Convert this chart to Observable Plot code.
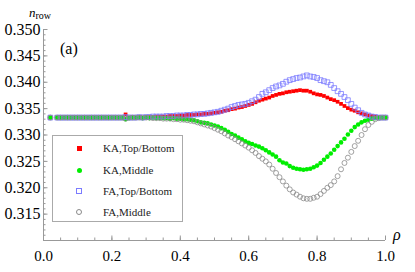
<!DOCTYPE html>
<html>
<head>
<meta charset="utf-8">
<script src="https://cdn.jsdelivr.net/npm/d3@7"></script>
<script src="https://cdn.jsdelivr.net/npm/@observablehq/plot@0.6"></script>
<style>
  html, body { margin: 0; padding: 0; background: #fff; }
  #wrap { position: relative; width: 415px; height: 272px; font-family: "Liberation Serif", "Times New Roman", Times, serif; }
  #wrap svg { position: absolute; left: 0; top: 0; }
  .ov { position: absolute; line-height: 1; color: #000; white-space: nowrap; }
  #legend { position: absolute; left: 52px; top: 135px; width: 129px; height: 85px; border: 1px solid #aaa; background: #fff; }
  .li { position: absolute; left: 0; height: 14px; width: 129px; }
  .sym { position: absolute; box-sizing: border-box; }
  .lt { position: absolute; left: 50px; top: 0; font-size: 11px; line-height: 14px; color: #222; }
</style>
</head>
<body>
<div id="wrap"></div>
<script>
// ---- data ----
const rho = [0.02,0.04,0.05,0.06,0.07,0.08,0.09,0.10,0.11,0.12,0.13,0.14,0.15,0.16,0.17,0.18,0.19,0.20,0.21,0.22,0.23,0.24,0.25,0.26,0.27,0.28,0.29,
  0.30,0.31,0.32,0.33,0.34,0.35,0.36,0.37,0.38,0.39,
  0.40,0.41,0.42,0.43,0.44,0.45,0.46,0.47,0.48,0.49,
  0.50,0.51,0.52,0.53,0.54,0.55,0.56,0.57,0.58,0.59,
  0.60,0.61,0.62,0.63,0.64,0.65,0.66,0.67,0.68,0.69,
  0.70,0.71,0.72,0.73,0.74,0.75,0.76,0.77,0.78,0.79,
  0.80,0.81,0.82,0.83,0.84,0.85,0.86,0.87,0.88,0.89,
  0.90,0.91,0.92,0.93,0.94,0.95,0.96,0.97,0.98,0.99,
  1.00];

const kaTopBottom = [0.3333,0.3333,0.3333,0.3333,0.3333,0.3333,0.3333,0.3333,0.3333,0.3333,0.3333,0.3333,0.3333,0.3333,0.3333,0.3333,0.3333,0.3333,0.3333,0.3333,0.3333,0.3339,0.3332,0.3334,0.3333,0.3334,0.3333,
  0.3334,0.3334,0.3334,0.3335,0.3335,0.3335,0.3335,0.3336,0.3336,0.3336,
  0.3337,0.3337,0.3338,0.3338,0.3338,0.3339,0.3339,0.3340,0.3340,0.3341,
  0.3342,0.3343,0.3344,0.3346,0.3347,0.3349,0.3350,0.3352,0.3353,0.3355,
  0.3357,0.3359,0.3362,0.3365,0.3367,0.3369,0.3371,0.3374,0.3376,0.3378,
  0.3379,0.3381,0.3382,0.3383,0.3384,0.3385,0.3384,0.3384,0.3382,0.3379,
  0.3377,0.3376,0.3374,0.3371,0.3368,0.3366,0.3363,0.3359,0.3355,0.3351,
  0.3348,0.3346,0.3343,0.3341,0.3339,0.3337,0.3336,0.3335,0.3334,0.3333,
  0.3333];

const kaMiddle = [0.3333,0.3333,0.3333,0.3333,0.3333,0.3333,0.3333,0.3333,0.3333,0.3333,0.3333,0.3333,0.3333,0.3333,0.3333,0.3333,0.3333,0.3333,0.3333,0.3333,0.3333,0.3330,0.3332,0.3333,0.3333,0.3333,0.3332,
  0.3333,0.3332,0.3333,0.3332,0.3332,0.3332,0.3332,0.3331,0.3332,0.3331,
  0.3331,0.3330,0.3330,0.3329,0.3328,0.3326,0.3324,0.3323,0.3322,0.3320,
  0.3318,0.3316,0.3313,0.3310,0.3306,0.3302,0.3299,0.3295,0.3292,0.3288,
  0.3285,0.3283,0.3280,0.3278,0.3275,0.3271,0.3267,0.3263,0.3259,0.3252,
  0.3248,0.3246,0.3241,0.3238,0.3236,0.3235,0.3234,0.3235,0.3236,0.3239,
  0.3242,0.3247,0.3253,0.3259,0.3265,0.3272,0.3279,0.3286,0.3293,0.3301,
  0.3308,0.3315,0.3320,0.3324,0.3327,0.3329,0.3331,0.3332,0.3333,0.3333,
  0.3333];

const faTopBottom = [0.3333,0.3333,0.3333,0.3333,0.3333,0.3333,0.3333,0.3333,0.3333,0.3333,0.3333,0.3333,0.3333,0.3333,0.3333,0.3333,0.3333,0.3333,0.3333,0.3333,0.3333,0.3334,0.3333,0.3333,0.3333,0.3334,0.3333,
  0.3334,0.3334,0.3335,0.3335,0.3335,0.3335,0.3336,0.3336,0.3336,0.3337,
  0.3337,0.3337,0.3338,0.3338,0.3339,0.3339,0.3340,0.3340,0.3341,0.3342,
  0.3343,0.3344,0.3346,0.3348,0.3350,0.3353,0.3355,0.3357,0.3358,0.3359,
  0.3361,0.3364,0.3367,0.3372,0.3378,0.3381,0.3385,0.3389,0.3392,0.3394,
  0.3397,0.3401,0.3404,0.3406,0.3408,0.3409,0.3411,0.3413,0.3411,0.3410,
  0.3408,0.3404,0.3402,0.3400,0.3395,0.3389,0.3383,0.3378,0.3372,0.3366,
  0.3359,0.3352,0.3347,0.3342,0.3339,0.3337,0.3335,0.3334,0.3333,0.3333,
  0.3333];

const faMiddle = [0.3333,0.3333,0.3333,0.3333,0.3333,0.3333,0.3333,0.3333,0.3333,0.3333,0.3333,0.3333,0.3333,0.3333,0.3333,0.3333,0.3333,0.3333,0.3333,0.3333,0.3333,0.3331,0.3333,0.3333,0.3333,0.3333,0.3333,
  0.3333,0.3333,0.3332,0.3332,0.3332,0.3331,0.3331,0.3331,0.3330,0.3330,
  0.3329,0.3329,0.3328,0.3327,0.3326,0.3324,0.3322,0.3320,0.3318,0.3316,
  0.3313,0.3310,0.3307,0.3303,0.3299,0.3296,0.3292,0.3288,0.3284,0.3280,
  0.3276,0.3271,0.3266,0.3260,0.3255,0.3250,0.3244,0.3236,0.3228,0.3220,
  0.3212,0.3204,0.3197,0.3191,0.3187,0.3183,0.3180,0.3179,0.3179,0.3181,
  0.3183,0.3188,0.3194,0.3200,0.3205,0.3212,0.3222,0.3235,0.3247,0.3257,
  0.3268,0.3279,0.3289,0.3300,0.3311,0.3319,0.3325,0.3330,0.3332,0.3333,
  0.3333];

const seriesNames = ["KA,Top/Bottom", "KA,Middle", "FA,Top/Bottom", "FA,Middle"];
const xTickLabels = [0.0, 0.2, 0.4, 0.6, 0.8, 1.0];
const xMinorTicks = [0,0.05,0.1,0.15,0.2,0.25,0.3,0.35,0.4,0.45,0.5,0.55,0.6,0.65,0.7,0.75,0.8,0.85,0.9,0.95,1.0];
const yTickLabels = [0.315, 0.320, 0.325, 0.330, 0.335, 0.340, 0.345, 0.350];
const yMajorTicks = [0.310, 0.315, 0.320, 0.325, 0.330, 0.335, 0.340, 0.345, 0.350];
const yMinorTicks = [0.310,0.311,0.312,0.313,0.314,0.315,0.316,0.317,0.318,0.319,0.320,0.321,0.322,0.323,0.324,0.325,0.326,0.327,0.328,0.329,0.330,
  0.331,0.332,0.333,0.334,0.335,0.336,0.337,0.338,0.339,0.340,0.341,0.342,0.343,0.344,0.345,0.346,0.347,0.348,0.349,0.350];

// ---- layout ----
const W = 415, H = 272, mL = 43, mR = 30, mT = 29, mB = 32;
const plotW = W - mL - mR, plotH = H - mT - mB;
const axisColor = "#999";
const serif = "'Liberation Serif', 'Times New Roman', Times, serif";

const toRows = (vals) => rho.map((x, i) => ({rho: x, v: vals[i]}));

const chart = Plot.plot({
  width: W, height: H,
  marginLeft: mL, marginRight: mR, marginTop: mT, marginBottom: mB,
  style: {fontFamily: serif, fontSize: "15px", color: "#000", background: "transparent", overflow: "visible"},
  x: {domain: [0, 1]},
  y: {domain: [0.310, 0.350]},
  marks: [
    Plot.ruleY([0.310], {stroke: axisColor}),
    Plot.ruleX([0], {stroke: axisColor}),
    Plot.tickX(xMinorTicks, {x: d => d, stroke: axisColor, insetTop: plotH - 2.5}),
    Plot.tickX(xTickLabels, {x: d => d, stroke: axisColor, insetTop: plotH - 4.5}),
    Plot.tickY(yMinorTicks, {y: d => d, stroke: axisColor, insetRight: plotW - 2.5}),
    Plot.tickY(yMajorTicks, {y: d => d, stroke: axisColor, insetRight: plotW - 4.5}),
    Plot.axisX({ticks: xTickLabels, tickSize: 0, tickPadding: 10, tickFormat: d => d.toFixed(1), label: null, fontSize: 15}),
    Plot.axisY({ticks: yTickLabels, tickSize: 0, tickPadding: 3, tickFormat: d => d.toFixed(3), label: null, fontSize: 16}),
    Plot.dot(toRows(kaTopBottom), {x: "rho", y: "v", symbol: "square", fill: "#ff0000", r: 2.1}),
    Plot.dot(toRows(kaMiddle), {x: "rho", y: "v", symbol: "circle", fill: "#00ee00", r: 2.3}),
    Plot.dot(toRows(faTopBottom), {x: "rho", y: "v", symbol: "square", fill: "none", stroke: "#7b7bff", strokeWidth: 0.8, r: 2.7}),
    Plot.dot(toRows(faMiddle), {x: "rho", y: "v", symbol: "circle", fill: "none", stroke: "#8a8a8a", strokeWidth: 0.8, r: 2.5})
  ]
});

const wrap = document.getElementById("wrap");
wrap.appendChild(chart);

// ---- overlay text: axis labels and panel tag ----
function addOv(html, left, top, size) {
  const d = document.createElement("div");
  d.className = "ov";
  d.innerHTML = html;
  d.style.left = left + "px";
  d.style.top = top + "px";
  d.style.fontSize = size + "px";
  wrap.appendChild(d);
}
addOv('<i>n</i><span style="font-size:10px;position:relative;top:2px;">row</span>', 29, 6, 13);
addOv('(a)', 60, 41, 16);
addOv('<i>ρ</i>', 393, 227, 16);

// ---- legend ----
const legend = document.createElement("div");
legend.id = "legend";
const symStyles = [
  {width: "5px", height: "5px", background: "#ff0000"},
  {width: "5px", height: "5px", background: "#00ee00", borderRadius: "50%"},
  {width: "6px", height: "6px", border: "1px solid #7b7bff"},
  {width: "6px", height: "6px", border: "1px solid #8a8a8a", borderRadius: "50%"}
];
const rowCenters = [12, 34, 55, 76];
seriesNames.forEach((name, i) => {
  const row = document.createElement("div");
  row.className = "li";
  row.style.top = (rowCenters[i] - 7) + "px";
  const s = document.createElement("div");
  s.className = "sym";
  Object.assign(s.style, symStyles[i]);
  const sz = parseFloat(symStyles[i].width);
  s.style.left = (26 - sz / 2) + "px";
  s.style.top = (7 - sz / 2) + "px";
  row.appendChild(s);
  const t = document.createElement("div");
  t.className = "lt";
  t.textContent = name;
  row.appendChild(t);
  legend.appendChild(row);
});
wrap.appendChild(legend);
</script>
</body>
</html>
